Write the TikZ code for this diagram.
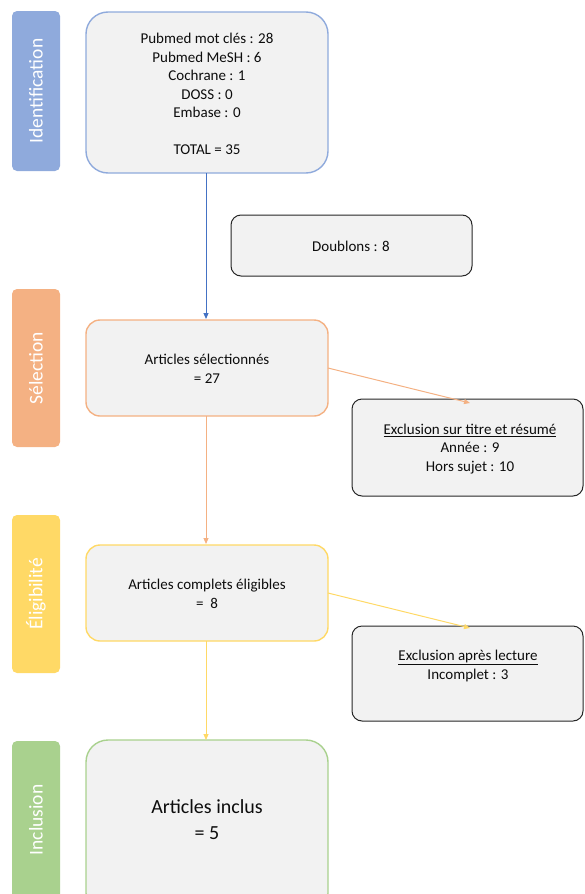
\documentclass[tikz,border=0pt]{standalone}
\usepackage{fontspec}
\setmainfont{Carlito}
\usetikzlibrary{arrows.meta}
\definecolor{cblue}{HTML}{8FAADC}
\definecolor{cblued}{HTML}{4472C4}
\definecolor{corange}{HTML}{F4B183}
\definecolor{cyellow}{HTML}{FFD966}
\definecolor{cgreen}{HTML}{A9D18E}
\definecolor{cfill}{HTML}{F2F2F2}
\definecolor{ctext}{HTML}{0D0D0D}
\tikzset{
  sidebar/.style={rounded corners=5pt},
  sidelabel/.style={rotate=90,text=white,font=\fontsize{19.5}{22}\selectfont},
  mainbox/.style={fill=cfill,line width=1.4pt,rounded corners=22pt},
  exclbox/.style={fill=cfill,draw=black!85,line width=1pt,rounded corners=10pt},
  txt/.style={align=center,text=ctext,font=\fontsize{15}{18.5}\selectfont},
  arr/.style={line width=1pt,-{Triangle[length=6pt,width=5pt]}},
}
\begin{document}
\begin{tikzpicture}[x=1pt,y=-1pt]
\useasboundingbox (0,0) rectangle (584,894);
\clip (0,0) rectangle (584,894);
% side bars
\fill[cblue,sidebar] (12,11) rectangle (60,171);
\node[sidelabel] (lid) at (36,91) {Identification};
\fill[corange,sidebar] (12,289) rectangle (60,447);
\node[sidelabel] (lsel) at (36,368) {Sélection};
\fill[cyellow,sidebar] (12,515) rectangle (60,673);
\node[sidelabel] (lel) at (36,594) {Éligibilité};
\fill[cgreen,sidebar] (12,741) rectangle (60,910);
\node[sidelabel] (lin) at (36,820) {Inclusion};
% main boxes
\draw[mainbox,draw=cblue] (86,12) rectangle (328,173);
\node[txt] (b1) at (207,94) {Pubmed mot clés : 28\\Pubmed MeSH : 6\\Cochrane : 1\\DOSS : 0\\Embase : 0\\[18.5pt]TOTAL = 35};
\coordinate (b1s) at (206,173);
\draw[exclbox] (231,215) rectangle (472,276);
\node[txt] (dbl) at (351,246) {Doublons : 8};
\draw[mainbox,draw=corange,rounded corners=14pt] (86,320) rectangle (328,416);
\node[txt] (b2) at (207,369) {Articles sélectionnés\\= 27};
\coordinate (b2n) at (206,319);
\coordinate (b2s) at (206,416);
\coordinate (b2e) at (328,368);
\draw[exclbox] (352,399) rectangle (583,496);
\node[txt] (e1) at (470,449) {\underline{Exclusion sur titre et résumé}\\Année : 9\\Hors sujet : 10};
\coordinate (e1n) at (470,403);
\draw[mainbox,draw=cyellow,rounded corners=14pt] (86,545) rectangle (328,641);
\node[txt] (b3) at (207,594) {Articles complets éligibles\\=\ \ 8};
\coordinate (b3n) at (206,544);
\coordinate (b3s) at (206,641);
\coordinate (b3e) at (328,593);
\draw[exclbox] (352,626) rectangle (583,721);
\node[txt] (e2) at (468,666) {\underline{Exclusion après lecture}\\Incomplet : 3};
\coordinate (e2n) at (470,628);
\draw[mainbox,draw=cgreen] (86,740) rectangle (328,915);
\node[txt,font=\fontsize{20}{26}\selectfont] (b4) at (207,820) {Articles inclus\\= 5};
\coordinate (b4n) at (206,740);
% connectors
\draw[arr,cblued] (b1s) -- (b2n);
\draw[arr,corange] (b2e) -- (e1n);
\draw[arr,corange] (b2s) -- (b3n);
\draw[arr,cyellow] (b3e) -- (e2n);
\draw[arr,cyellow] (b3s) -- (b4n);
\end{tikzpicture}
\end{document}
